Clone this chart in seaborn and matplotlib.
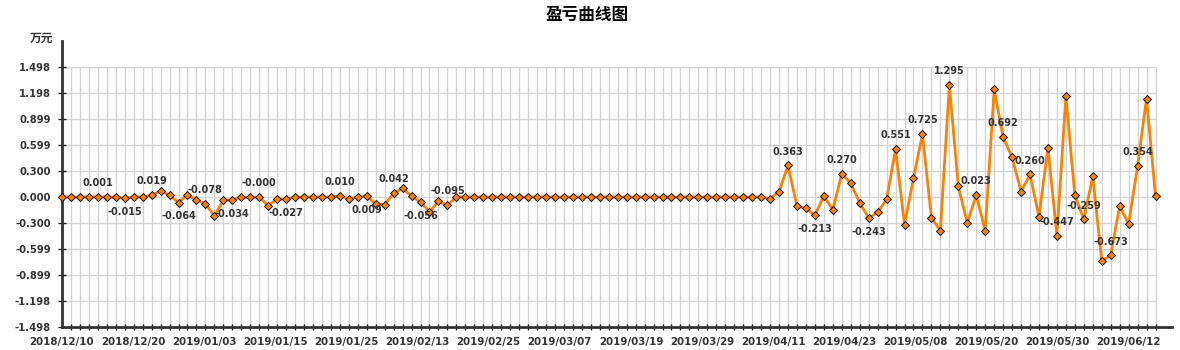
import numpy as np
import pandas as pd
import matplotlib
matplotlib.use('Agg')
import matplotlib.pyplot as plt
import seaborn as sns

title = '盈亏曲线图'
unit_label = '万元'

values_early = [0, 0, 0, 0, 0.001, 0, 0, -0.015, 0, 0,
                0.019, 0.07, 0.019, -0.064, 0.027, -0.035, -0.078, -0.22, -0.035, -0.034,
                -0.005, -0.004, -0.0004, -0.10, -0.02, -0.027, 0, 0, 0, 0,
                0, 0.010, -0.02, 0, 0.009, -0.08, -0.088, 0.042, 0.10, 0.008,
                -0.056, -0.17, -0.05, -0.095]
values_flat = [0] * 35
values_late = [-0.02, 0.06, 0.363, -0.104, -0.13, -0.213, 0.015, -0.15, 0.270, 0.157,
               -0.065, -0.243, -0.176, -0.027, 0.551, -0.318, 0.215, 0.725, -0.238, -0.39,
               1.295, 0.123, -0.30, 0.023, -0.388, 1.239, 0.692, 0.457, 0.061, 0.260,
               -0.226, 0.568, -0.447, 1.162, 0.019, -0.259, 0.238, -0.737, -0.673, -0.104,
               -0.31, 0.354, 1.135, 0.012]
values = values_early + values_flat + values_late

tick_dates = ['2018/12/10', '2018/12/20', '2019/01/03', '2019/01/15', '2019/01/25',
              '2019/02/13', '2019/02/25', '2019/03/07', '2019/03/19', '2019/03/29',
              '2019/04/11', '2019/04/23', '2019/05/08', '2019/05/20', '2019/05/30',
              '2019/06/12']

label_idx = [4, 7, 10, 13, 16, 19, 22, 25, 31, 34, 37, 40, 43,
             81, 84, 87, 90, 93, 96, 99, 102, 105, 108, 111, 114, 117, 120]
label_text = ['0.001', '-0.015', '0.019', '-0.064', '-0.078', '-0.034', '-0.000', '-0.027',
              '0.010', '0.009', '0.042', '-0.056', '-0.095',
              '0.363', '-0.213', '0.270', '-0.243', '0.551', '0.725', '1.295', '0.023',
              '0.692', '0.260', '-0.447', '-0.259', '-0.673', '0.354']
label_below = {7, 13, 19, 25, 34, 40, 84, 90}

y_max = 1.498

sns.set_theme(style='white')
plt.rcParams['font.family'] = ['DejaVu Sans', 'Noto Sans CJK SC']

W, H = 1180, 350
fig = plt.figure(figsize=(W / 100, H / 100), dpi=100)
ax = fig.add_axes([62 / W, 23 / H, (1172 - 62) / W, (327 - 41) / H])

n = len(values)
idx = np.arange(n)
df = pd.DataFrame({'i': idx, 'v': values})

grid_c = '#d4d4d4'
yt = np.linspace(-y_max, y_max, 11)
ax.vlines(idx[1:], -y_max, y_max, color=grid_c, lw=1, zorder=0)
ax.hlines(yt[1:], 0, n - 1, color=grid_c, lw=1, zorder=0)

sns.lineplot(data=df, x='i', y='v', ax=ax, color='#ff8000', lw=2,
             marker='D', markersize=3.8, markerfacecolor='#ff8000',
             markeredgecolor='#111111', markeredgewidth=0.7, clip_on=False, zorder=3)

px_per_idx = (1155.5 - 62) / (n - 1)
ax.set_xlim(0, (1172 - 62) / px_per_idx)
ax.set_ylim(-y_max, y_max + 26 * (2 * y_max / 260))

for i, t in zip(label_idx, label_text):
    dy = -10 if i in label_below else 10
    ax.annotate(t, (i, values[i]), xytext=(0, dy), textcoords='offset points',
                ha='center', va='center', fontsize=7, fontweight='bold',
                color='#333333', zorder=4)

# axes styling
for s in ['top', 'right']:
    ax.spines[s].set_visible(False)
for s in ['left', 'bottom']:
    ax.spines[s].set_color('#333333')
    ax.spines[s].set_linewidth(2)

ax.set_yticks(yt)
ax.set_yticklabels([f'{(0.0 if abs(v) < 1e-9 else v):.3f}' for v in yt])
major_pos = [k * (n - 1) / n for k in range(0, n, 8)][:len(tick_dates)]
ax.set_xticks(major_pos)
ax.set_xticklabels(tick_dates)
ax.set_xticks(idx, minor=True)
ax.tick_params(axis='x', which='major', length=0, pad=7, labelsize=7.4, labelcolor='#333333')
ax.tick_params(axis='x', which='minor', direction='inout', length=5, width=1, color='#222222', bottom=True)
ax.tick_params(axis='y', direction='inout', length=6, width=1, color='#222222', pad=5,
               labelsize=7.2, labelcolor='#333333', left=True)
for lab in ax.get_xticklabels() + ax.get_yticklabels():
    lab.set_fontweight('bold')
ax.set_xlabel('')
ax.set_ylabel('')

fig.text(587 / W, 1 - 15 / H, title, ha='center', va='center', fontsize=12,
         fontweight='bold', family=['Noto Sans CJK SC'], color='#000000')
fig.text(53 / W, 1 - 38 / H, unit_label, ha='right', va='center', fontsize=8.5,
         fontweight='bold', family=['Noto Sans CJK SC'], color='#333333')

fig.savefig('out.png', dpi=100)
